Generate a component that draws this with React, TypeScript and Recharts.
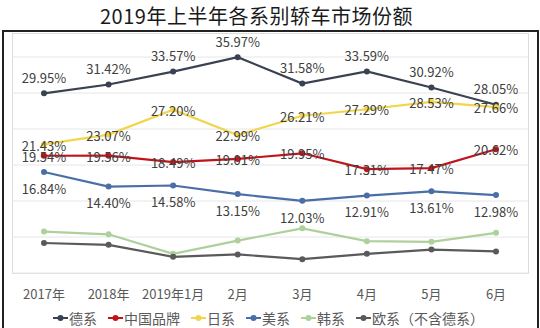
import React from 'react';
import { LineChart, Line, XAxis, YAxis, CartesianGrid, LabelList } from 'recharts';

const months = ['2017年', '2018年', '2019年1月', '2月', '3月', '4月', '5月', '6月'];

const german = [29.95, 31.42, 33.57, 35.97, 31.58, 33.59, 30.92, 28.05];
const chinese = [19.54, 19.56, 18.49, 19.01, 19.95, 17.31, 17.47, 20.62];
const japanese = [21.43, 23.07, 27.2, 22.99, 26.21, 27.29, 28.53, 27.66];
const american = [16.84, 14.4, 14.58, 13.15, 12.03, 12.91, 13.61, 12.98];
const korean = [6.9, 6.45, 3.2, 5.4, 7.45, 5.3, 5.2, 6.7];
const european = [5.0, 4.7, 2.7, 3.1, 2.3, 3.2, 3.9, 3.6];

const gridTicks = [0, 6, 12, 18, 24, 30, 36];

const data = months.map((m, i) => ({
  name: m,
  german: german[i],
  chinese: chinese[i],
  japanese: japanese[i],
  american: american[i],
  korean: korean[i],
  european: european[i],
}));

type Series = { key: string; label: string; color: string; labelPos?: 'top' | 'center' | 'bottom' };

const series: Series[] = [
  { key: 'german', label: '德系', color: '#3a4252', labelPos: 'top' },
  { key: 'chinese', label: '中国品牌', color: '#c0141c', labelPos: 'center' },
  { key: 'japanese', label: '日系', color: '#f2d54a', labelPos: 'center' },
  { key: 'american', label: '美系', color: '#4a6ea6', labelPos: 'bottom' },
  { key: 'korean', label: '韩系', color: '#aed09a' },
  { key: 'european', label: '欧系（不含德系）', color: '#5a5a5a' },
];

const FONT = '"Noto Sans CJK SC", "Noto Sans", sans-serif';

const makeLabel = (pos: 'top' | 'center' | 'bottom') => (props: any) => {
  const { x, y, value } = props;
  const dy = pos === 'top' ? -15 : pos === 'bottom' ? 17 : 1.5;
  return (
    <text
      x={x}
      y={y + dy}
      dy="0.36em"
      textAnchor="middle"
      fontSize={13}
      fontFamily={FONT}
      fill="#404040"
    >
      {Number(value).toFixed(2)}%
    </text>
  );
};

const XTick = (props: any) => {
  const { x, y, payload } = props;
  return (
    <text x={x} y={y} dy={18} textAnchor="middle" fontSize={13} fontFamily={FONT} fill="#595959">
      {payload.value}
    </text>
  );
};

export default function App() {
  return (
    <div style={{ position: 'absolute', left: 0, top: 0, width: 540, height: 328, background: '#fff', overflow: 'hidden', fontFamily: FONT }}>
      <div
        style={{
          position: 'absolute', left: 100, top: 2, width: 330, whiteSpace: 'nowrap',
          fontSize: 20, letterSpacing: 0.5, color: '#1a1a1a', lineHeight: '28px',
        }}
      >
        2019年上半年各系别轿车市场份额
      </div>
      <div style={{ position: 'absolute', left: 2, top: 30, width: 533, height: 310, border: '2px solid #222' }} />
      <div style={{ position: 'absolute', left: 12, top: 33, width: 515, height: 239, border: '1px solid #dcdcdc' }} />
      <div style={{ position: 'absolute', left: 0, top: 0 }}>
        <LineChart width={540} height={328} data={data} margin={{ top: 33, right: 12, bottom: 0, left: 12 }}>
          <CartesianGrid vertical={false} stroke="#e6e6e6" horizontalValues={gridTicks} />
          <XAxis
            dataKey="name"
            axisLine={false}
            tickLine={false}
            padding={{ left: 32, right: 32 }}
            height={55}
            tick={<XTick />}
            interval={0}
          />
          <YAxis hide domain={[0, 40]} ticks={gridTicks} />
          {series.map(s => (
            <Line
              key={s.key}
              type="linear"
              dataKey={s.key}
              stroke={s.color}
              strokeWidth={2.2}
              dot={{ r: 3, fill: s.color, stroke: s.color, strokeWidth: 0 }}
              activeDot={false}
              isAnimationActive={false}
            >
              {s.labelPos && <LabelList dataKey={s.key} content={makeLabel(s.labelPos)} />}
            </Line>
          ))}
        </LineChart>
      </div>
      <div style={{ position: 'absolute', left: 53, top: 308, height: 20, display: 'flex', alignItems: 'center', whiteSpace: 'nowrap' }}>
        {series.map(s => (
          <div key={s.key} style={{ display: 'flex', alignItems: 'center', marginRight: 11 }}>
            <svg width={15} height={10} style={{ marginRight: 1 }}>
              <line x1={0} y1={5} x2={15} y2={5} stroke={s.color} strokeWidth={2} />
              <circle cx={7.5} cy={5} r={3} fill={s.color} />
            </svg>
            <span style={{ fontSize: 14, color: '#595959' }}>{s.label}</span>
          </div>
        ))}
      </div>
    </div>
  );
}
